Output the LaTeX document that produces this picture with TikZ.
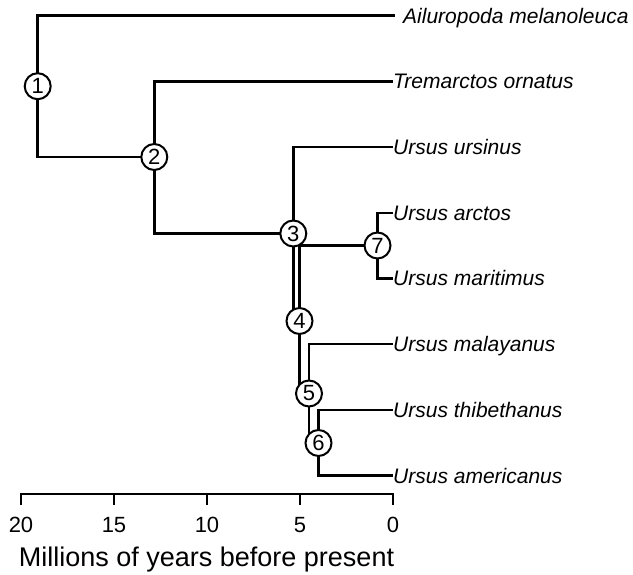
\documentclass[tikz,border=0pt]{standalone}
\usepackage{fontspec}
\setmainfont{Liberation Sans}
\usetikzlibrary{backgrounds}

\begin{document}
\begin{tikzpicture}[x=1pt, y=-1pt,
                    branch/.style={line width=2.5pt},
                    axis line/.style={line width=2pt, line cap=rect},
                    split/.style={circle, draw, fill=white, line width=2pt, minimum size=26pt, inner sep=0pt, font=\fontsize{22}{22}\selectfont},
                    taxon/.style={anchor=west, inner sep=0pt, text height=15pt, text depth=0pt, font=\fontsize{21}{21}\selectfont\itshape},
                    tick label/.style={font=\fontsize{22}{22}\selectfont}]

    \useasboundingbox (0,0) rectangle (633,575);

    % tips
    \node[taxon, inner xsep=8pt] (ailuropoda)  at (395, 15.7)  {Ailuropoda melanoleuca};
    \node[taxon]                 (tremarctos)  at (393, 81.4)  {Tremarctos ornatus};
    \node[taxon]                 (ursinus)     at (393, 147.1) {Ursus ursinus};
    \node[taxon]                 (arctos)      at (393, 212.8) {Ursus arctos};
    \node[taxon]                 (maritimus)   at (393, 278.5) {Ursus maritimus};
    \node[taxon]                 (malayanus)   at (393, 344.2) {Ursus malayanus};
    \node[taxon]                 (thibethanus) at (393, 409.9) {Ursus thibethanus};
    \node[taxon]                 (americanus)  at (393, 475.6) {Ursus americanus};

    % internal nodes
    \node[split] (n1) at (37.7, 86.2)  {1};
    \node[split] (n2) at (154.3, 157)  {2};
    \node[split] (n3) at (293.3, 233.5) {3};
    \node[split] (n4) at (299.5, 321)  {4};
    \node[split] (n5) at (309, 393.5)  {5};
    \node[split] (n6) at (318.5, 443)  {6};
    \node[split] (n7) at (377.5, 245.5) {7};

    \begin{pgfonlayer}{background}
        \draw[branch] (n1.center) |- (ailuropoda);
        \draw[branch] (n1.center) |- (n2.center);
        \draw[branch] (n2.center) |- (tremarctos);
        \draw[branch] (n2.center) |- (n3.center);
        \draw[branch] (n3.center) |- (ursinus);
        \draw[branch] (n3.center) |- (n4.center);
        \draw[branch] (n4.center) |- (n7.center);
        \draw[branch] (n4.center) |- (n5.center);
        \draw[branch] (n7.center) |- (arctos);
        \draw[branch] (n7.center) |- (maritimus);
        \draw[branch] (n5.center) |- (malayanus);
        \draw[branch] (n5.center) |- (n6.center);
        \draw[branch] (n6.center) |- (thibethanus);
        \draw[branch] (n6.center) |- (americanus);
    \end{pgfonlayer}

    % time axis
    \draw[axis line] (21, 494) -- (393, 494);
    \foreach \t in {0, 5, ..., 20} {
        \draw[axis line] ({393 - 18.6*\t}, 494) -- ++(0, 10);
        \node[tick label] (tick\t) at ({393 - 18.6*\t}, 525) {\t};
    }
    \node[font=\fontsize{27}{27}\selectfont, anchor=base] (axis title) at (206.5, 566) {Millions of years before present};

\end{tikzpicture}
\end{document}
